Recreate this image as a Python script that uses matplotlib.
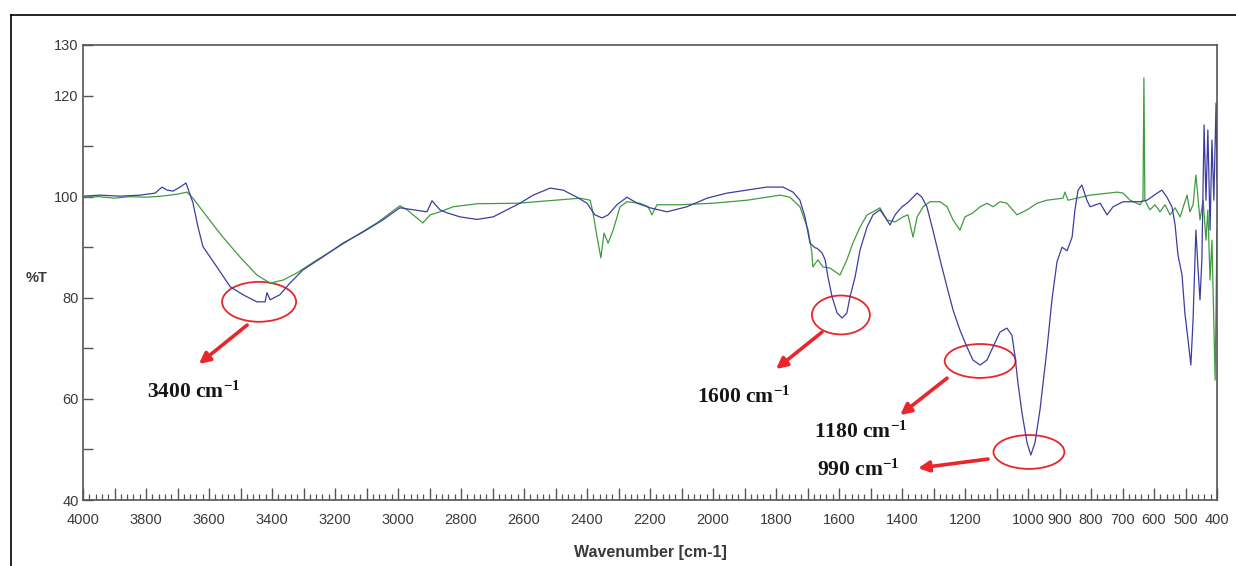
import numpy as np
import matplotlib
matplotlib.use("Agg")
import matplotlib.pyplot as plt
from matplotlib.patches import Ellipse
from matplotlib.lines import Line2D

plt.rcParams['font.family'] = ['Liberation Sans', 'DejaVu Sans']
plt.rcParams['mathtext.fontset'] = 'custom'
plt.rcParams['mathtext.rm'] = 'Liberation Serif:bold'
plt.rcParams['mathtext.default'] = 'rm'

# sample spectrum (blue)
wn_sample = [4000, 3946, 3883, 3819, 3771, 3749, 3733, 3714, 3692, 3673, 3651, 3635, 3619, 3575,
             3533, 3492, 3448, 3422, 3416, 3406, 3375, 3343, 3302, 3238, 3175, 3111, 3048, 2994,
             2952, 2908, 2892, 2867, 2844, 2803, 2749, 2698, 2654, 2613, 2571, 2517, 2476, 2432,
             2400, 2375, 2352, 2333, 2305, 2273, 2241, 2200, 2146, 2083, 2019, 1956, 1892, 1829,
             1778, 1746, 1724, 1708, 1692, 1676, 1670, 1654, 1644, 1635, 1622, 1606, 1590, 1575,
             1565, 1549, 1533, 1511, 1492, 1470, 1454, 1438, 1422, 1400, 1384, 1368, 1352, 1337,
             1321, 1302, 1279, 1257, 1238, 1216, 1194, 1175, 1152, 1130, 1111, 1089, 1067, 1051,
             1041, 1032, 1019, 1003, 991, 978, 962, 940, 924, 908, 892, 876, 860, 851, 841, 829,
             813, 803, 771, 749, 730, 698, 644, 622, 590, 575, 559, 543, 533, 524, 511, 502, 492,
             483, 476, 467, 460, 454, 448, 441, 435, 429, 422, 416, 410, 403, 400]
t_sample = [100.1, 100.3, 100.1, 100.3, 100.7, 101.9, 101.3, 101.1, 101.9, 102.7, 98.8, 94.0, 90.1, 86.1,
            82.2, 80.6, 79.2, 79.2, 81.0, 79.6, 80.6, 82.9, 85.5, 88.1, 90.8, 93.0, 95.4, 97.8,
            97.4, 97.0, 99.2, 97.4, 96.8, 96.0, 95.5, 96.0, 97.4, 98.7, 100.3, 101.7, 101.3, 99.9,
            98.7, 96.4, 95.8, 96.4, 98.4, 99.9, 98.7, 97.8, 97.0, 98.0, 99.7, 100.7, 101.3, 101.9,
            101.9, 100.9, 99.3, 96.0, 90.8, 89.9, 89.8, 88.9, 87.5, 84.1, 80.2, 77.0, 76.0, 77.0,
            80.2, 84.1, 89.5, 94.0, 96.4, 97.4, 96.0, 94.4, 96.4, 98.0, 98.7, 99.7, 100.7, 99.9,
            98.0, 93.4, 87.5, 82.1, 77.6, 73.6, 70.3, 67.7, 66.7, 67.7, 70.3, 73.2, 74.0, 72.6,
            68.3, 63.2, 57.2, 51.3, 48.9, 51.3, 57.8, 69.7, 79.6, 87.1, 90.0, 89.3, 92.0, 97.4, 101.3, 102.3,
            99.3, 98.0, 98.7, 96.4, 98.0, 99.0, 99.0, 99.3, 100.7, 101.3, 99.9, 98.0, 94.4, 88.5, 84.5, 77.0, 71.7,
            66.7, 75.6, 93.4, 85.5, 79.6, 87.5, 114.2, 99.3, 113.2, 93.4, 111.2, 99.3, 118.5, 103.3]

# reference spectrum (green)
wn_ref = [4000, 3950, 3900, 3850, 3800, 3750, 3700, 3670, 3651, 3606, 3556, 3502, 3448, 3406, 3365,
          3321, 3257, 3194, 3130, 3067, 2994, 2971, 2952, 2921, 2898, 2867, 2825, 2749, 2619, 2422,
          2390, 2381, 2368, 2356, 2346, 2333, 2317, 2295, 2273, 2232, 2206, 2194, 2178, 2105, 2000,
          1892, 1787, 1756, 1724, 1698, 1686, 1683, 1667, 1651, 1629, 1597, 1575, 1556, 1533, 1511,
          1492, 1470, 1448, 1422, 1397, 1381, 1365, 1352, 1333, 1311, 1279, 1257, 1238, 1216, 1200,
          1175, 1152, 1130, 1111, 1089, 1067, 1035, 1003, 971, 940, 889, 883, 873, 803, 717, 698,
          676, 644, 635, 632, 629, 613, 597, 581, 565, 549, 533, 517, 505, 495, 486, 476, 467, 454,
          444, 435, 429, 422, 416, 406, 400]
t_ref = [99.9, 100.0, 99.7, 100.0, 99.9, 100.1, 100.5, 100.9, 99.7, 96.0, 92.0, 88.1, 84.5, 82.9, 83.5,
         84.9, 87.5, 89.9, 92.4, 94.8, 98.2, 97.4, 96.4, 94.8, 96.4, 97.0, 98.0, 98.6, 98.7, 99.7,
         99.3, 96.8, 92.0, 87.9, 92.8, 90.8, 93.4, 98.0, 99.0, 98.7, 98.0, 96.4, 98.4, 98.4, 98.7,
         99.3, 100.3, 99.9, 98.0, 93.4, 88.9, 86.1, 87.5, 86.1, 85.9, 84.5, 87.5, 90.8, 94.0, 96.4,
         97.0, 97.8, 95.4, 95.0, 96.0, 96.4, 92.0, 96.0, 98.0, 99.0, 99.0, 98.0, 95.4, 93.4, 96.0,
         96.8, 98.0, 98.7, 98.0, 99.0, 98.7, 96.4, 97.4, 98.7, 99.3, 99.7, 100.9, 99.3, 100.3, 100.9, 100.7,
         99.3, 98.4, 99.3, 123.5, 99.3, 97.4, 98.4, 97.0, 98.4, 96.4, 97.8, 96.0, 98.4, 100.3, 97.0, 98.4, 104.3, 95.4,
         99.3, 91.4, 97.4, 83.5, 91.4, 63.7, 93.4]

# marked bands: label, ellipse centre (wn, %T), ellipse size, arrow tail, arrow tip, text anchor
band_labels = ['3400', '1600', '1180', '990']
ell_center = [(3441, 79.2), (1594, 76.6), (1152, 67.5), (997, 49.5)]
ell_size = [(235, 7.9), (184, 7.7), (225, 6.7), (225, 6.7)]
arrow_tail = [(3479, 74.6), (1654, 73.2), (1257, 64.1), (1127, 48.1)]
arrow_tip = [(3632, 66.9), (1800, 65.9), (1406, 56.8), (1349, 46.3)]
text_pos = [(3797, 61.4), (2051, 60.4), (1679, 53.5), (1670, 45.9)]

fig = plt.figure(figsize=(12.36, 5.66), dpi=100)
ax = fig.add_axes([83/1236, 1-500/566, (1217-83)/1236, (500-45)/566])

ax.plot(wn_ref, t_ref, color='#3f9b3f', lw=0.9)
ax.plot(wn_sample, t_sample, color='#3d3da0', lw=0.9)

ax.set_xlim(4000, 400)
ax.set_ylim(40, 130)

xt = np.arange(400, 4001, 100)
ax.set_xticks(xt)
ax.set_xticklabels([str(v) if (v <= 1000 or v % 200 == 0) else '' for v in xt])
ax.set_xticks(np.arange(400, 4001, 20), minor=True)
yt = np.arange(40, 131, 10)
ax.set_yticks(yt)
ax.set_yticklabels([str(v) if v in (40, 60, 80, 100, 120, 130) else '' for v in yt])

ax.tick_params(axis='x', which='major', direction='in', length=8.5, width=1, color='#555555',
               labelsize=10.5, labelcolor='#3a3a3a', pad=9)
ax.tick_params(axis='x', which='minor', direction='in', length=4.3, width=0.9, color='#555555')
ax.tick_params(axis='y', which='major', direction='in', length=7, width=1, color='#555555',
               labelsize=10.5, labelcolor='#3a3a3a', pad=3)
for s in ax.spines.values():
    s.set_color('#555555')
    s.set_linewidth(1.2)

ax.set_xlabel('Wavenumber [cm-1]', fontsize=11.5, fontweight='bold', color='#3a3a3a', labelpad=13)
ax.set_ylabel('%T', rotation=0, fontsize=10.5, color='#3a3a3a', fontweight='bold')
ax.yaxis.set_label_coords(-0.041, 0.472)

red = '#e8262b'
for lab, c, sz, tail, tip, tp in zip(band_labels, ell_center, ell_size, arrow_tail, arrow_tip, text_pos):
    ax.add_patch(Ellipse(c, sz[0], sz[1], fill=False, edgecolor=red, lw=1.3))
    ax.annotate('', xy=tip, xytext=tail,
                arrowprops=dict(arrowstyle='-|>', color=red, lw=2.6, mutation_scale=16,
                                shrinkA=0, shrinkB=0))
    ax.text(tp[0], tp[1], lab + ' cm$^{-1}$', family='Liberation Serif', fontweight='bold',
            fontsize=15.5, color='#151515', ha='left', va='center')

# outer frame of the figure
fig.add_artist(Line2D([11/1236, 11/1236], [0, 1-15/566], color='black', lw=1.2))
fig.add_artist(Line2D([11/1236, 1], [1-15/566, 1-15/566], color='black', lw=1.2))

fig.savefig('out.png', dpi=100)
